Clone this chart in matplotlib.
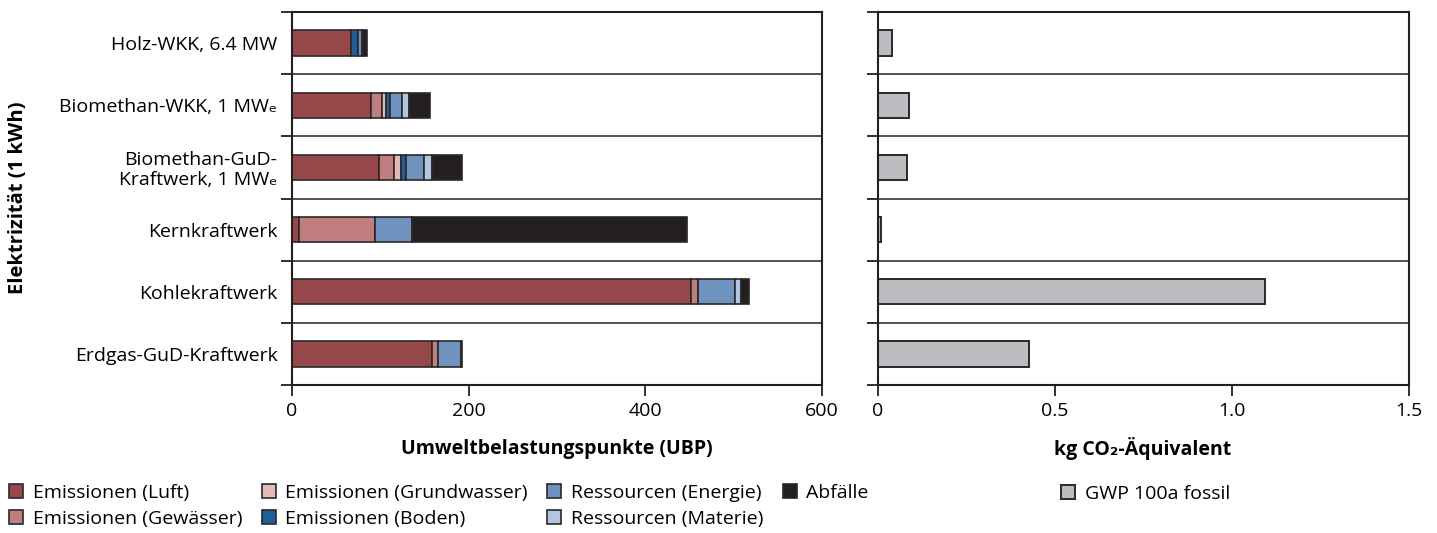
import matplotlib
matplotlib.use("Agg")
import matplotlib.pyplot as plt
import numpy as np

plt.rcParams['font.family'] = ['Open Sans', 'DejaVu Sans']

# categories, top to bottom
plants = [
    "Holz-WKK, 6.4 MW",
    "Biomethan-WKK, 1 MW\u2091",
    "Biomethan-GuD-\nKraftwerk, 1 MW\u2091",
    "Kernkraftwerk",
    "Kohlekraftwerk",
    "Erdgas-GuD-Kraftwerk",
]

# UBP per category
luft = [67, 89, 98, 8, 452, 158]
gewaesser = [0, 13, 18, 86, 8, 7.5]
grundwasser = [0, 4, 7, 0, 0, 0]
boden = [8, 5, 6, 0, 0, 0]
energie = [4, 14, 20, 42, 42, 26]
materie = [1.5, 7.5, 10, 0, 6, 0]
abfaelle = [4, 24, 34, 311, 9, 1.5]

# kg CO2-eq
gwp = [0.04, 0.087, 0.081, 0.009, 1.094, 0.427]

ubp_series = [
    ("Emissionen (Luft)", luft, "#964749"),
    ("Emissionen (Gewässer)", gewaesser, "#c07f7e"),
    ("Emissionen (Grundwasser)", grundwasser, "#e4bab6"),
    ("Emissionen (Boden)", boden, "#1d5e9b"),
    ("Ressourcen (Energie)", energie, "#6f93be"),
    ("Ressourcen (Materie)", materie, "#b3c6e0"),
    ("Abfälle", abfaelle, "#231f20"),
]

edge = "#2b2829"
W, H = 1437, 533
fig = plt.figure(figsize=(W / 100, H / 100), dpi=100)
ax1 = fig.add_axes([292 / W, 1 - 385 / H, 530 / W, 373 / H])
ax2 = fig.add_axes([878 / W, 1 - 385 / H, 531 / W, 373 / H])

y = np.arange(len(plants))
bh = 0.41

left = np.zeros(len(plants))
for name, vals, col in ubp_series:
    vals = np.array(vals, dtype=float)
    ax1.barh(y, vals, left=left, height=bh, color=col, edgecolor=edge,
             linewidth=1.2, label=name)
    left += vals

ax2.barh(y, gwp, height=bh, color="#bcbdc0", edgecolor=edge, linewidth=1.4,
         label="GWP 100a fossil")

for ax, xmax, ticks, labels in [
    (ax1, 600, [0, 200, 400, 600], ["0", "200", "400", "600"]),
    (ax2, 1.5, [0, 0.5, 1.0, 1.5], ["0", "0.5", "1.0", "1.5"]),
]:
    ax.set_xlim(0, xmax)
    ax.set_ylim(len(plants) - 0.5, -0.5)
    for b in np.arange(0.5, len(plants) - 0.5, 1):
        ax.axhline(b, color="#333333", linewidth=1.2, zorder=0)
    for s in ax.spines.values():
        s.set_linewidth(1.5)
        s.set_color("#231f20")
    ax.set_xticks(ticks)
    ax.set_xticklabels(labels)
    ax.tick_params(axis="x", direction="out", length=8, width=1.3,
                   labelsize=14, pad=4, color="#231f20")
    ax.set_yticks(np.arange(-0.5, len(plants), 1), minor=True)
    ax.tick_params(axis="y", which="minor", direction="out", length=8,
                   width=1.3, color="#231f20")
    ax.set_yticks(y)
    ax.tick_params(axis="y", which="major", length=0)

ax1.set_yticklabels(plants, fontsize=14, linespacing=1.1)
ax1.tick_params(axis="y", which="major", pad=10.5)
ax2.set_yticklabels([])

fig.text(18 / W, 1 - 198 / H, "Elektrizität (1 kWh)", rotation=90,
         ha="center", va="center", fontsize=14.5, fontweight="bold")

fig.text(557 / W, 1 - 449 / H, "Umweltbelastungspunkte (UBP)", ha="center",
         va="center", fontsize=14, fontweight="bold")
fig.text(1143 / W, 1 - 449 / H, "kg CO\u2082-Äquivalent", ha="center",
         va="center", fontsize=14, fontweight="bold")

h1, l1 = ax1.get_legend_handles_labels()
fig.legend(h1, l1, loc="upper left", bbox_to_anchor=(3 / W, 1 - 478 / H),
           ncol=4, frameon=False, fontsize=14, handlelength=0.72,
           handleheight=0.72, handletextpad=0.5, columnspacing=1.0,
           labelspacing=0.4, borderaxespad=0, borderpad=0.3)
h2, l2 = ax2.get_legend_handles_labels()
fig.legend(h2, l2, loc="upper left", bbox_to_anchor=(1055 / W, 1 - 479 / H),
           frameon=False, fontsize=14, handlelength=0.72, handleheight=0.72,
           handletextpad=0.5, borderaxespad=0, borderpad=0.3)

fig.savefig("out.png", dpi=100)
